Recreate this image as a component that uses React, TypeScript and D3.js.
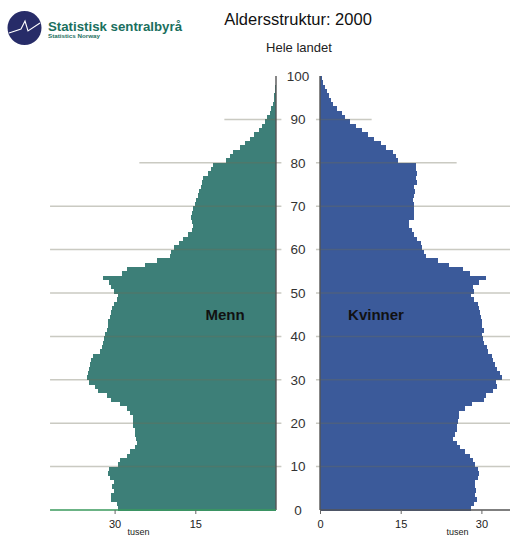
import React, { useEffect, useRef } from 'react'
import { scaleLinear, scaleBand, select, axisBottom } from 'd3'

// befolkning etter alder (tusen), alder 0..99
const menn = [
    29.3, 29.6, 30.7, 30.7, 30.2, 30.4, 30.1, 30.9, 31.2, 31.0,
    29.4, 29.0, 27.7, 27.2, 26.3, 25.9, 26.0, 26.3, 26.2, 26.5,
    26.6, 26.5, 27.2, 27.7, 29.0, 30.7, 31.5, 33.0, 33.6, 34.8,
    35.1, 35.0, 34.7, 34.6, 34.4, 34.0, 32.7, 32.4, 32.2, 32.0,
    31.8, 31.5, 31.3, 31.2, 30.9, 30.6, 30.4, 30.1, 29.6, 29.3,
    30.2, 30.6, 31.0, 32.2, 28.7, 27.7, 24.3, 22.2, 19.7, 19.5,
    19.0, 18.1, 17.2, 16.3, 15.7, 15.4, 15.7, 15.8, 15.7, 15.4,
    15.1, 14.8, 14.5, 14.3, 14.0, 13.8, 13.5, 12.6, 12.0, 11.8,
    9.3, 8.5, 8.0, 6.7, 5.8, 4.9, 4.1, 3.2, 2.6, 2.0,
    1.6, 1.2, 0.9, 0.6, 0.45, 0.3, 0.2, 0.12, 0.08, 0.05,
]

const kvinner = [
    28.0, 28.7, 29.1, 28.8, 29.0, 28.8, 28.8, 29.4, 29.6, 29.4,
    28.8, 28.4, 27.8, 27.0, 26.0, 25.4, 24.8, 25.1, 25.4, 25.5,
    25.7, 25.8, 25.8, 27.0, 28.2, 30.4, 30.9, 32.2, 32.9, 32.8,
    33.9, 33.4, 32.9, 32.5, 32.2, 31.9, 31.3, 31.0, 30.5, 30.3,
    30.2, 30.4, 30.2, 30.2, 30.0, 29.8, 29.6, 29.4, 28.7, 28.0,
    28.6, 28.4, 29.6, 30.9, 27.8, 26.5, 24.0, 21.9, 19.7, 19.3,
    19.0, 18.7, 18.1, 17.5, 17.1, 16.6, 16.5, 17.5, 17.5, 17.5,
    17.5, 17.3, 17.5, 17.7, 17.5, 18.1, 17.8, 18.1, 17.8, 17.9,
    14.5, 14.2, 13.5, 12.3, 11.3, 10.1, 8.9, 7.8, 6.7, 5.5,
    4.7, 4.0, 3.1, 2.5, 2.1, 1.7, 1.3, 0.9, 0.6, 0.3,
]

const alderTicks = [0, 10, 20, 30, 40, 50, 60, 70, 80, 90, 100]
const gridAges = [10, 20, 30, 40, 50, 60, 70, 80, 90]
// hvor langt (tusen) de korte linjene for 80 og 90 går
const gridReach: Record<number, number> = { 80: 25.4, 90: 9.6 }
const xTicksMenn = [30, 15]
const xTicksKvinner = [0, 15, 30]

const MENN_FARGE = '#3d7f78'
const KVINNER_FARGE = '#3b5a9a'
const SSB_GRONN = '#1b6f5e'

const App = () => {
    const chartRef = useRef<SVGSVGElement>(null)

    useEffect(() => {
        const svg = select(chartRef.current)
        svg.selectAll('*').remove()

        const maxVal = 42
        const ages = menn.map((_, i) => i)

        const y = scaleBand<number>()
            .domain(ages)
            .range([510, 76])
            .padding(0)

        const yAge = scaleLinear().domain([0, 100]).range([510, 76])

        const xL = scaleLinear().domain([0, maxVal]).range([276, 276 - maxVal * 5.38])
        const xR = scaleLinear().domain([0, maxVal]).range([320, 320 + maxVal * 5.38])

        // menn
        svg.append('g')
            .attr('shape-rendering', 'crispEdges')
            .selectAll('rect')
            .data(menn)
            .enter()
            .append('rect')
            .attr('x', d => xL(d))
            .attr('y', (d, i) => y(i) as number)
            .attr('width', d => xL(0) - xL(d))
            .attr('height', y.bandwidth() + 0.5)
            .attr('fill', MENN_FARGE)

        // kvinner
        svg.append('g')
            .attr('shape-rendering', 'crispEdges')
            .selectAll('rect')
            .data(kvinner)
            .enter()
            .append('rect')
            .attr('x', xR(0))
            .attr('y', (d, i) => y(i) as number)
            .attr('width', d => xR(d) - xR(0))
            .attr('height', y.bandwidth() + 0.5)
            .attr('fill', KVINNER_FARGE)

        // rutenett over søylene
        const grid = svg.append('g')
            .attr('stroke', '#6b6b55')
            .attr('stroke-opacity', 0.36)
            .attr('stroke-width', 1.5)

        gridAges.forEach(a => {
            const reach = gridReach[a] ?? maxVal
            grid.append('line')
                .attr('x1', xL(reach)).attr('x2', xL(-1))
                .attr('y1', yAge(a)).attr('y2', yAge(a))
            grid.append('line')
                .attr('x1', xR(-0.75)).attr('x2', xR(reach))
                .attr('y1', yAge(a)).attr('y2', yAge(a))
        })

        // akser
        svg.append('line')
            .attr('x1', xL(0)).attr('x2', xL(0))
            .attr('y1', yAge(100)).attr('y2', yAge(0))
            .attr('stroke', '#555').attr('stroke-width', 1.4)
        svg.append('line')
            .attr('x1', xR(0)).attr('x2', xR(0))
            .attr('y1', yAge(100)).attr('y2', yAge(0))
            .attr('stroke', '#555').attr('stroke-width', 1.4)

        svg.append('line')
            .attr('x1', xL(maxVal)).attr('x2', xL(0))
            .attr('y1', yAge(0)).attr('y2', yAge(0))
            .attr('stroke', '#3a9a5c').attr('stroke-width', 1.5)
        svg.append('line')
            .attr('x1', xR(0)).attr('x2', xR(maxVal))
            .attr('y1', yAge(0)).attr('y2', yAge(0))
            .attr('stroke', '#555').attr('stroke-width', 1.4)

        const styleAxis = (g: any) => {
            g.select('.domain').remove()
            g.selectAll('line').attr('stroke', '#666')
            g.selectAll('text')
                .attr('font-family', 'Liberation Sans, Arial, sans-serif')
                .attr('font-size', 11)
                .attr('fill', '#222')
                .attr('dy', '0.75em')
        }

        svg.append('g')
            .attr('transform', `translate(0, ${yAge(0)})`)
            .call(axisBottom(xL).tickValues(xTicksMenn).tickSize(4).tickPadding(6))
            .call(styleAxis)

        svg.append('g')
            .attr('transform', `translate(0, ${yAge(0)})`)
            .call(axisBottom(xR).tickValues(xTicksKvinner).tickSize(4).tickPadding(6))
            .call(styleAxis)

        svg.append('text')
            .attr('x', xL(30) + 24).attr('y', 535)
            .attr('text-anchor', 'middle')
            .attr('font-family', 'Liberation Sans, Arial, sans-serif')
            .attr('font-size', 9).attr('fill', '#222')
            .text('tusen')
        svg.append('text')
            .attr('x', xR(30) - 24).attr('y', 535)
            .attr('text-anchor', 'middle')
            .attr('font-family', 'Liberation Sans, Arial, sans-serif')
            .attr('font-size', 9).attr('fill', '#222')
            .text('tusen')

        // alder i midten
        svg.append('g')
            .selectAll('text')
            .data(alderTicks)
            .enter()
            .append('text')
            .attr('x', 298)
            .attr('y', d => yAge(d))
            .attr('dy', '0.36em')
            .attr('text-anchor', 'middle')
            .attr('font-family', 'Liberation Sans, Arial, sans-serif')
            .attr('font-size', 13.5)
            .attr('fill', '#333')
            .text(d => d)
    }, [chartRef])

    return (
        <div>
            <style>{`body{margin:0}`}</style>
            <svg width={510} height={538} style={{ display: 'block' }}>
                {/* logo */}
                <circle cx={24.5} cy={28} r={17} fill='#272c68' />
                <path d='M9,33 L21,29 L25,21 L28,31 L40,23' fill='none' stroke='#fff' strokeWidth={1.1} />
                <text x={48} y={30.5} fontFamily='Liberation Sans, Arial, sans-serif' fontWeight='bold'
                    fontSize={12.5} fill={SSB_GRONN} textLength={134} lengthAdjust='spacingAndGlyphs'>
                    Statistisk sentralbyrå
                </text>
                <text x={48} y={38} fontFamily='Liberation Sans, Arial, sans-serif' fontWeight='bold'
                    fontSize={5.5} fill={SSB_GRONN} textLength={52} lengthAdjust='spacingAndGlyphs'>
                    Statistics Norway
                </text>

                <text x={298} y={25} textAnchor='middle' fontFamily='Liberation Sans, Arial, sans-serif'
                    fontSize={16.5} fill='#111'>Aldersstruktur: 2000</text>
                <text x={299} y={51.5} textAnchor='middle' fontFamily='Liberation Sans, Arial, sans-serif'
                    fontSize={13} fill='#222'>Hele landet</text>

                <svg ref={chartRef} />

                <text x={225} y={320} textAnchor='middle' fontFamily='Liberation Sans, Arial, sans-serif'
                    fontWeight='bold' fontSize={15} fill='#111'>Menn</text>
                <text x={376} y={320} textAnchor='middle' fontFamily='Liberation Sans, Arial, sans-serif'
                    fontWeight='bold' fontSize={15} fill='#111'>Kvinner</text>
            </svg>
        </div>
    )
}

export default App
